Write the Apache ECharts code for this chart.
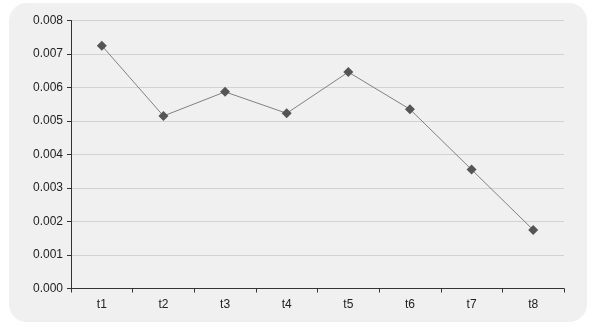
<!DOCTYPE html>
<html><head><meta charset="utf-8">
<script src="https://cdn.jsdelivr.net/npm/echarts@6/dist/echarts.min.js"></script>
<style>
html,body{margin:0;padding:0;background:#fff;}
#bg{position:absolute;left:9px;top:3px;width:578px;height:319px;background:#f0f0f0;border-radius:18px;}
#c{position:absolute;left:0;top:0;width:600px;height:328px;}
</style></head>
<body><div id="bg"></div><div id="c"></div>
<script>
const categories = ['t1','t2','t3','t4','t5','t6','t7','t8'];
const values = [0.00725, 0.00515, 0.00587, 0.00523, 0.00646, 0.00535, 0.00355, 0.00175];
const chart = echarts.init(document.getElementById('c'));
chart.setOption({
  animation:false,
  backgroundColor:'transparent',
  grid:{left:71,right:36,top:20.5,bottom:39.5},
  xAxis:{type:'category',data:categories,boundaryGap:true,
    axisLine:{lineStyle:{color:'#333',width:1}},
    axisTick:{show:true,length:4,inside:false,lineStyle:{color:'#333'}},
    axisLabel:{color:'#222',fontSize:12,fontFamily:'Liberation Sans',margin:10}},
  yAxis:{type:'value',min:0,max:0.008,interval:0.001,
    axisLine:{show:true,lineStyle:{color:'#333',width:1}},
    axisTick:{show:true,length:4,lineStyle:{color:'#333'}},
    splitLine:{lineStyle:{color:'#d2d2d2',width:1}},
    axisLabel:{color:'#222',fontSize:12,fontFamily:'Liberation Sans',margin:8,formatter:v=>v.toFixed(3)}},
  series:[{type:'line',data:values,symbol:'diamond',symbolSize:10,
    lineStyle:{color:'#808080',width:1},itemStyle:{color:'#555'}}]
});
</script></body></html>
